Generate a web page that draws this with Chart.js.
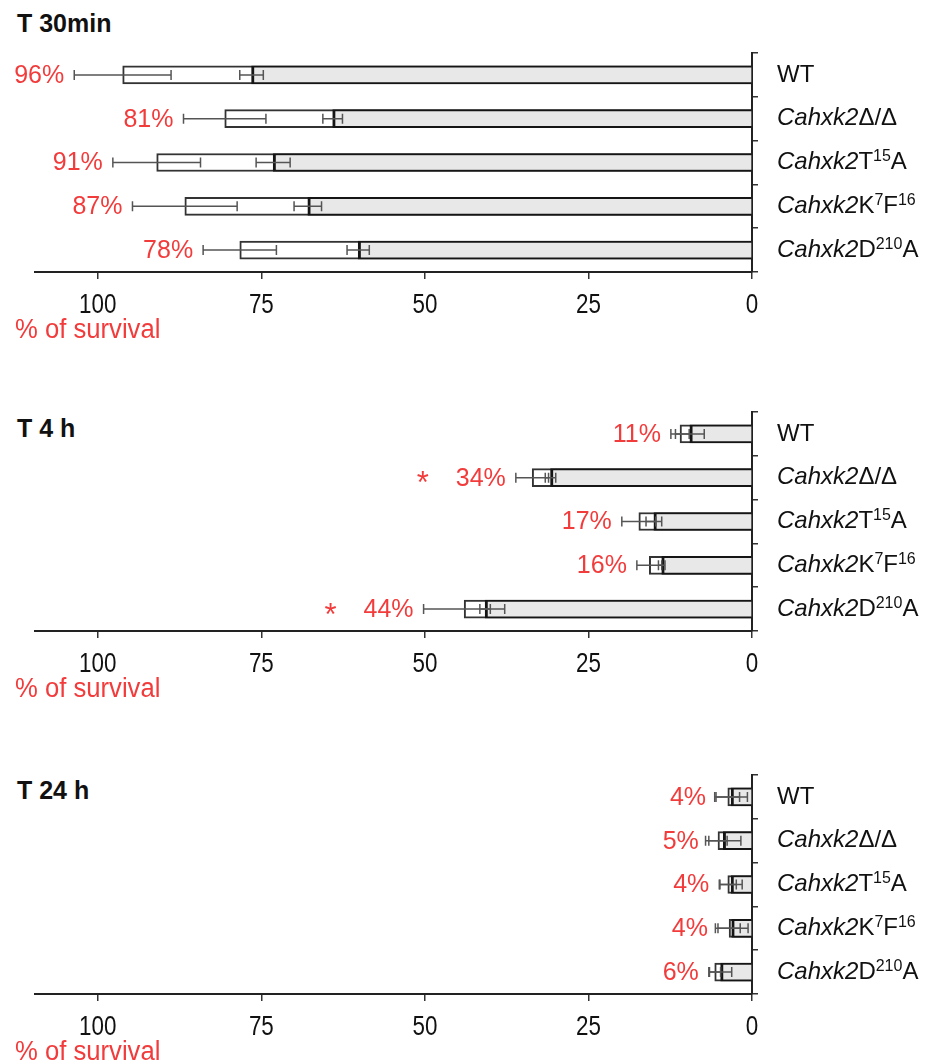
<!DOCTYPE html>
<html>
<head>
<meta charset="utf-8">
<script src="https://cdn.jsdelivr.net/npm/chart.js@4.4.0/dist/chart.umd.min.js"></script>
<style>
  html, body { margin: 0; padding: 0; background: #fff; overflow: hidden; }
  body { width: 931px; height: 1061px; position: relative; font-family: 'Liberation Sans', Arial, sans-serif; }
  .panel { position: absolute; left: 0; width: 931px; height: 340px; }
  .title { position: absolute; left: 17px; font-weight: bold; font-size: 25px; color: #111; line-height: 28px; }
</style>
</head>
<body>
<script>
// Strains (rich text: <i> italic, <sup> superscript)
var categories = ['WT', '<i>Cahxk2</i>Δ/Δ', '<i>Cahxk2</i>T<sup>15</sup>A', '<i>Cahxk2</i>K<sup>7</sup>F<sup>16</sup>', '<i>Cahxk2</i>D<sup>210</sup>A'];
var xTicks = [100, 75, 50, 25, 0];
var panelTitles = ['T 30min', 'T 4 h', 'T 24 h'];

// T 30min
var survival30 = [96.2, 80.6, 91.0, 86.7, 78.3];
var survival30Err = [7.4, 6.3, 6.7, 8.0, 5.6];
var inner30 = [76.5, 64.1, 73.2, 67.9, 60.2];
var inner30Err = [1.8, 1.5, 2.6, 2.1, 1.7];
var marks30 = ['', '', '', '', ''];

// T 4 h
var survival4h = [11.0, 33.6, 17.3, 15.7, 44.0];
var survival4hErr = [1.4, 2.5, 2.6, 1.9, 6.2];
var inner4h = [9.5, 30.8, 15.0, 13.8, 40.8];
var inner4hErr = [2.2, 0.8, 1.2, 0.5, 0.8];
var marks4h = ['', '*', '', '', '*'];

// T 24 h
var survival24h = [3.7, 5.2, 3.7, 3.5, 5.7];
var survival24hErr = [1.8, 1.4, 1.3, 1.7, 0.9];
var inner24h = [3.2, 4.4, 3.2, 3.1, 4.8];
var inner24hErr = [2.5, 2.7, 1.7, 2.5, 1.7];
var marks24h = ['', '', '', '', ''];

var RED = '#f23b3b';
var FONT = "'Liberation Sans', Arial, sans-serif";

function drawRichLabel(ctx, markup, x, y) {
    var parts = markup.split(/(<i>.*?<\/i>|<sup>.*?<\/sup>)/).filter(function (p) { return p; });
    ctx.textAlign = 'left';
    ctx.textBaseline = 'middle';
    parts.forEach(function (p) {
        var text = p, dy = 0;
        if (p.indexOf('<i>') === 0) {
            text = p.replace(/<\/?i>/g, '');
            ctx.font = 'italic 24px ' + FONT;
        } else if (p.indexOf('<sup>') === 0) {
            text = p.replace(/<\/?sup>/g, '');
            ctx.font = '16px ' + FONT;
            dy = -6;
        } else {
            ctx.font = '24px ' + FONT;
        }
        ctx.fillText(text, x, y + dy);
        x += ctx.measureText(text).width;
    });
}

var survivalPlugin = {
    id: 'survivalExtras',
    afterDatasetsDraw: function (chart) {
        var ctx = chart.ctx;
        var xs = chart.scales.x;
        ctx.save();
        // error bars
        chart.data.datasets.forEach(function (ds, di) {
            var meta = chart.getDatasetMeta(di);
            meta.data.forEach(function (bar, i) {
                var v = ds.data[i], e = ds.errors[i];
                var x1 = xs.getPixelForValue(v + e), x2 = xs.getPixelForValue(v - e);
                ctx.strokeStyle = '#555';
                ctx.lineWidth = 1.5;
                ctx.beginPath();
                ctx.moveTo(x1, bar.y); ctx.lineTo(x2, bar.y);
                ctx.moveTo(x1, bar.y - 5); ctx.lineTo(x1, bar.y + 5);
                ctx.moveTo(x2, bar.y - 5); ctx.lineTo(x2, bar.y + 5);
                ctx.stroke();
            });
        });
        // percentage labels
        var surv = chart.data.datasets[1];
        var barsMeta = chart.getDatasetMeta(1);
        var marks = chart.options.plugins.survivalExtras.marks;
        ctx.fillStyle = RED;
        ctx.textBaseline = 'middle';
        barsMeta.data.forEach(function (bar, i) {
            var right = xs.getPixelForValue(surv.data[i] + surv.errors[i]) - 10;
            var txt = Math.round(surv.data[i]) + '%';
            ctx.font = '25px ' + FONT;
            ctx.textAlign = 'right';
            ctx.fillText(txt, right, bar.y + 1);
            if (marks[i]) {
                var w = ctx.measureText(txt).width;
                ctx.textAlign = 'center';
                ctx.font = '31px ' + FONT;
                ctx.fillText(marks[i], right - w - 33, bar.y + 7);
            }
        });
        ctx.restore();
    },
    afterDraw: function (chart) {
        var ctx = chart.ctx;
        var xs = chart.scales.x, ys = chart.scales.y;
        var area = chart.chartArea;
        ctx.save();
        ctx.fillStyle = '#111';
        chart.data.labels.forEach(function (lab, i) {
            drawRichLabel(ctx, lab, area.right + 25, ys.getPixelForValue(i));
        });
        // narrow tick labels
        ctx.font = '28px ' + FONT;
        ctx.textAlign = 'center';
        ctx.textBaseline = 'middle';
        xTicks.forEach(function (v) {
            ctx.save();
            ctx.translate(xs.getPixelForValue(v), area.bottom + 33);
            ctx.scale(0.8, 1);
            ctx.fillText(String(v), 0, 0);
            ctx.restore();
        });
        ctx.fillStyle = RED;
        ctx.textAlign = 'left';
        ctx.font = '27px ' + FONT;
        ctx.save();
        ctx.translate(15, area.bottom + 59);
        ctx.scale(0.95, 1);
        ctx.fillText('% of survival', 0, 0);
        ctx.restore();
        ctx.restore();
    }
};

function makePanel(top, titleTop, title, survival, survivalErr, inner, innerErr, marks) {
    var t = document.createElement('div');
    t.className = 'title';
    t.style.top = titleTop + 'px';
    t.textContent = title;
    document.body.appendChild(t);

    var holder = document.createElement('div');
    holder.className = 'panel';
    holder.style.top = top + 'px';
    holder.innerHTML = '<canvas></canvas>';
    document.body.appendChild(holder);
    var canvas = holder.querySelector('canvas');

    new Chart(canvas, {
        type: 'bar',
        data: {
            labels: categories,
            datasets: [
                {
                    data: inner,
                    errors: innerErr,
                    order: 0,
                    grouped: false,
                    barThickness: 18,
                    backgroundColor: '#e8e8e8',
                    borderColor: '#151515',
                    borderWidth: { left: 3, top: 2, bottom: 2, right: 0 }
                },
                {
                    data: survival,
                    errors: survivalErr,
                    order: 1,
                    grouped: false,
                    barThickness: 18,
                    backgroundColor: '#ffffff',
                    borderColor: '#333333',
                    borderWidth: { left: 2, top: 2, bottom: 2, right: 0 }
                }
            ]
        },
        options: {
            indexAxis: 'y',
            responsive: true,
            maintainAspectRatio: false,
            animation: false,
            layout: { padding: { left: 35, right: 173, top: 40, bottom: 74 } },
            plugins: {
                legend: { display: false },
                tooltip: { enabled: false },
                title: { display: false },
                survivalExtras: { marks: marks }
            },
            scales: {
                x: {
                    type: 'linear',
                    reverse: true,
                    min: 0,
                    max: 109.6,
                    afterBuildTicks: function (s) { s.ticks = xTicks.map(function (v) { return { value: v }; }); },
                    ticks: { display: false },
                    grid: { drawOnChartArea: false, drawTicks: true, tickLength: 7, color: '#333', lineWidth: 1.5 },
                    border: { display: true, color: '#222', width: 2 }
                },
                y: {
                    position: 'right',
                    ticks: { display: false },
                    grid: { offset: true, drawOnChartArea: false, drawTicks: true, tickLength: 6, color: '#333', lineWidth: 1.5 },
                    border: { display: true, color: '#222', width: 2 }
                }
            }
        },
        plugins: [survivalPlugin]
    });
}

makePanel(13, 9, panelTitles[0], survival30, survival30Err, inner30, inner30Err, marks30);
makePanel(372, 414, panelTitles[1], survival4h, survival4hErr, inner4h, inner4hErr, marks4h);
makePanel(735, 776, panelTitles[2], survival24h, survival24hErr, inner24h, inner24hErr, marks24h);
</script>
</body>
</html>
